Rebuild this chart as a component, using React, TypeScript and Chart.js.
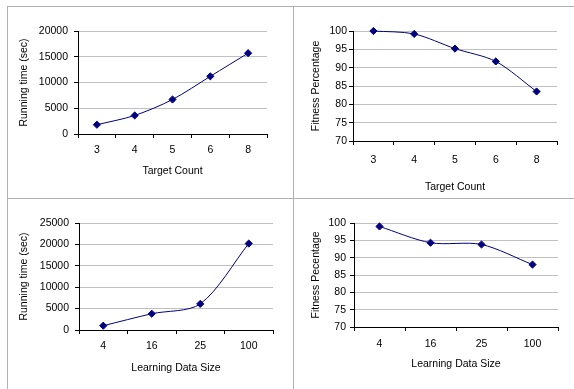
import React, { useEffect, useRef } from 'react';
import { Chart, registerables } from 'chart.js';

Chart.register(...registerables);

// ---- data ----
const targetCounts = ['3', '4', '5', '6', '8'];
const runningTimeByTarget = [1800, 3600, 6700, 11200, 15700];
const fitnessByTarget = [100, 99.2, 95.2, 91.7, 83.5];

const learningSizes = ['4', '16', '25', '100'];
const runningTimeBySize = [1000, 3800, 6100, 20200];
const fitnessBySize = [99, 94.3, 93.8, 88];

const W = 574;
const H = 389;
const FONT = "'Liberation Sans', Arial, sans-serif";
const FS = 10.5;
const LH = FS * 1.2;
const NAVY = '#000080';
const GRID = '#c0c0c0';

type PanelSpec = {
  labels: string[];
  values: number[];
  yMin: number;
  yMax: number;
  yStep: number;
  yTitle: string;
  xTitle: string;
  L: number; T: number; R: number; B: number;
  tx: number; ty: number;
  yPad: number; xPad: number;
};

function ChartPanel({ spec }: { spec: PanelSpec }) {
  const ref = useRef<HTMLCanvasElement | null>(null);
  useEffect(() => {
    if (!ref.current) return;
    const s = spec;
    const padLeft = s.tx - LH / 2;
    const padBottom = H - s.ty - LH / 2;
    const chart = new Chart(ref.current, {
      type: 'line',
      data: {
        labels: s.labels,
        datasets: [
          {
            data: s.values,
            borderColor: NAVY,
            backgroundColor: NAVY,
            borderWidth: 1,
            pointStyle: 'rectRot',
            pointRadius: 3.6,
            pointBorderWidth: 1,
            pointBackgroundColor: NAVY,
            pointBorderColor: NAVY,
            tension: 0.3,
            fill: false,
            clip: false,
          },
        ],
      },
      options: {
        animation: false,
        responsive: false,
        maintainAspectRatio: false,
        layout: {
          padding: { left: padLeft, top: s.T, right: W - s.R, bottom: padBottom },
        },
        plugins: {
          legend: { display: false },
          tooltip: { enabled: false },
          title: { display: false },
        },
        scales: {
          x: {
            type: 'category',
            offset: true,
            grid: {
              offset: true,
              drawOnChartArea: false,
              drawTicks: true,
              tickLength: 4,
              tickColor: '#000',
            },
            border: { color: '#000', width: 1 },
            ticks: {
              color: '#000',
              padding: s.xPad,
              font: { family: FONT, size: FS },
              maxRotation: 0,
            },
            title: {
              display: true,
              text: s.xTitle,
              color: '#000',
              padding: { top: 0, bottom: 0 },
              font: { family: FONT, size: FS },
            },
            afterFit: (scale: any) => {
              scale.height = s.ty + LH / 2 - s.B;
            },
          },
          y: {
            min: s.yMin,
            max: s.yMax,
            grid: {
              color: (ctx: any) => (ctx.tick && ctx.tick.value === s.yMin ? 'rgba(0,0,0,0)' : GRID),
              drawTicks: true,
              tickLength: 4,
              tickColor: '#000',
            },
            border: { color: '#000', width: 1 },
            ticks: {
              stepSize: s.yStep,
              color: '#000',
              padding: s.yPad,
              font: { family: FONT, size: FS },
              callback: (v: any) => String(v),
            },
            title: {
              display: true,
              text: s.yTitle,
              color: '#000',
              padding: { top: 0, bottom: 0 },
              font: { family: FONT, size: FS },
            },
            afterFit: (scale: any) => {
              scale.width = s.L - padLeft;
            },
          },
        },
      },
    });
    return () => chart.destroy();
  }, [spec]);
  return (
    <canvas
      ref={ref}
      width={W}
      height={H}
      style={{ position: 'absolute', left: 0, top: 0, width: W, height: H }}
    />
  );
}

const panels: PanelSpec[] = [
  {
    labels: targetCounts, values: runningTimeByTarget,
    yMin: 0, yMax: 20000, yStep: 5000,
    yTitle: 'Running time (sec)', xTitle: 'Target Count',
    L: 78, T: 31, R: 267, B: 134, tx: 24, ty: 171, yPad: 6, xPad: 6,
  },
  {
    labels: targetCounts, values: fitnessByTarget,
    yMin: 70, yMax: 100, yStep: 5,
    yTitle: 'Fitness Percentage', xTitle: 'Target Count',
    L: 353, T: 31, R: 557, B: 141, tx: 316, ty: 187, yPad: 2, xPad: 9,
  },
  {
    labels: learningSizes, values: runningTimeBySize,
    yMin: 0, yMax: 25000, yStep: 5000,
    yTitle: 'Running time (sec)', xTitle: 'Learning Data Size',
    L: 79, T: 223, R: 273, B: 330, tx: 24, ty: 368, yPad: 6, xPad: 6,
  },
  {
    labels: learningSizes, values: fitnessBySize,
    yMin: 70, yMax: 100, yStep: 5,
    yTitle: 'Fitness Pecentage', xTitle: 'Learning Data Size',
    L: 354, T: 223, R: 558, B: 327, tx: 316, ty: 364, yPad: 4, xPad: 7,
  },
];

const lineColor = '#b0b0b0';

export default function App() {
  return (
    <div
      style={{
        position: 'absolute',
        left: 0,
        top: 0,
        width: W,
        height: H,
        background: '#fff',
        overflow: 'hidden',
      }}
    >
      <div style={{ position: 'absolute', left: 7, top: 6, width: W - 7, height: 1, background: lineColor }} />
      <div style={{ position: 'absolute', left: 7, top: 198, width: W - 7, height: 1, background: lineColor }} />
      <div style={{ position: 'absolute', left: 7, top: 6, width: 1, height: H - 6, background: lineColor }} />
      <div style={{ position: 'absolute', left: 293, top: 6, width: 1, height: H - 6, background: lineColor }} />
      {panels.map((p, i) => (
        <ChartPanel key={i} spec={p} />
      ))}
    </div>
  );
}
